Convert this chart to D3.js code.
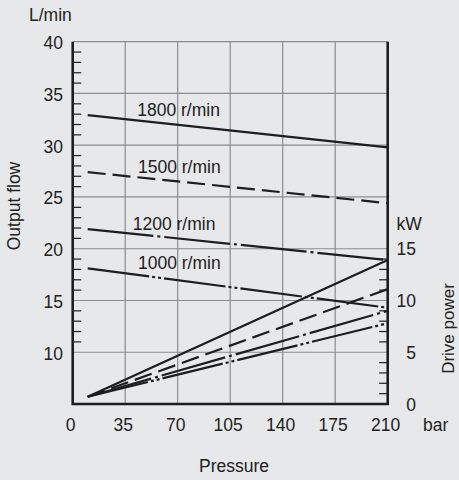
<!DOCTYPE html>
<html>
<head>
<meta charset="utf-8">
<script src="https://cdn.jsdelivr.net/npm/d3@7"></script>
<style>
  html, body { margin: 0; padding: 0; background: #e7e8ea; }
  svg { display: block; }
  text { font-family: "Liberation Sans", Arial, Helvetica, sans-serif; fill: #222; }
</style>
</head>
<body>
<script>
// ---- data ----
const speeds = ["1800 r/min", "1500 r/min", "1200 r/min", "1000 r/min"];
const pressureRange = [10, 210];                 // bar (start, end of each line)
const flowStart = [32.9, 27.4, 21.9, 18.1];      // L/min at 10 bar
const flowEnd   = [29.8, 24.4, 18.9, 14.3];      // L/min at 210 bar
const powerStart = [0.7, 0.7, 0.7, 0.7];         // kW at 10 bar
const powerEnd   = [13.9, 11.1, 9.0, 7.8];       // kW at 210 bar
const pressureTicks = [0, 35, 70, 105, 140, 175, 210];
const flowTicks = [10, 15, 20, 25, 30, 35, 40];
const powerTicks = [0, 5, 10, 15];
const dashStyles = ["none", "18,7", "66,4,3,4", "62,3,3,3,3,3"];

// ---- layout ----
const W = 459, H = 480;
const L = 72.7, R = 387.7, T = 41.7, B = 404;
const ink = "#1e1e1e";

const svg = d3.select("body").append("svg").attr("width", W).attr("height", H);

const x = d3.scaleLinear().domain([0, 210]).range([L, R]);
const yFlow = d3.scaleLinear().domain([5, 40]).range([B, T]);
const yPow = d3.scaleLinear().domain([0, 35]).range([B, T]);

// grid
const grid = svg.append("g").attr("stroke", "#8c8c8c").attr("stroke-width", 1.2);
grid.selectAll("line.v").data(pressureTicks.slice(1, -1)).join("line")
  .attr("x1", d => x(d)).attr("x2", d => x(d)).attr("y1", T).attr("y2", B);
grid.selectAll("line.h").data(flowTicks).join("line")
  .attr("x1", L).attr("x2", R).attr("y1", d => yFlow(d)).attr("y2", d => yFlow(d));

// minor ticks
const leftMinor = d3.range(11, 40).filter(v => v % 5 !== 0);
svg.append("g").attr("stroke", ink).attr("stroke-width", 1.2)
  .selectAll("line").data(leftMinor).join("line")
  .attr("x1", L).attr("x2", L + 8.5).attr("y1", d => yFlow(d)).attr("y2", d => yFlow(d));
const rightMinor = d3.range(1, 15).filter(v => v % 5 !== 0);
svg.append("g").attr("stroke", ink).attr("stroke-width", 1.2)
  .selectAll("line").data(rightMinor).join("line")
  .attr("x1", R - 8.5).attr("x2", R).attr("y1", d => yPow(d)).attr("y2", d => yPow(d));

// frame (left, bottom, right)
svg.append("path")
  .attr("d", `M${L},${T}V${B}H${R}V${T}`)
  .attr("fill", "none").attr("stroke", ink).attr("stroke-width", 2.6);

// data lines
const flowLine = d3.line().x(d => x(d[0])).y(d => yFlow(d[1]));
const powLine = d3.line().x(d => x(d[0])).y(d => yPow(d[1]));
const lines = svg.append("g").attr("fill", "none").attr("stroke", ink).attr("stroke-width", 2.2);
speeds.forEach((s, i) => {
  lines.append("path")
    .attr("d", flowLine([[pressureRange[0], flowStart[i]], [pressureRange[1], flowEnd[i]]]))
    .attr("stroke-dasharray", dashStyles[i]);
  lines.append("path")
    .attr("d", powLine([[pressureRange[0], powerStart[i]], [pressureRange[1], powerEnd[i]]]))
    .attr("stroke-dasharray", dashStyles[i]);
});

// line labels
const labelX = [43, 43.5, 40, 43.5];
speeds.forEach((s, i) => {
  svg.append("text").attr("x", x(labelX[i])).attr("y", yFlow(flowStart[i]) + 0.5)
    .attr("font-size", 17.5).text(s);
});

// axis tick labels
const fs = 17.5;
svg.append("g").selectAll("text").data(flowTicks).join("text")
  .attr("x", 63).attr("y", d => yFlow(d) + 7.5)
  .attr("text-anchor", "end").attr("font-size", fs).text(d => d);
svg.append("g").selectAll("text").data(powerTicks).join("text")
  .attr("x", 416).attr("y", d => yPow(d) + 6.5)
  .attr("text-anchor", "end").attr("font-size", fs).text(d => d);
svg.append("g").selectAll("text").data(pressureTicks).join("text")
  .attr("x", d => x(d) - 2).attr("y", 431)
  .attr("text-anchor", "middle").attr("font-size", fs).text(d => d);

// units and titles
svg.append("text").attr("x", 29).attr("y", 21).attr("font-size", fs).text("L/min");
svg.append("text").attr("x", 396.5).attr("y", 230).attr("font-size", fs).text("kW");
svg.append("text").attr("x", 423).attr("y", 431).attr("font-size", fs).text("bar");
svg.append("text").attr("x", 234).attr("y", 472).attr("text-anchor", "middle")
  .attr("font-size", fs).text("Pressure");
svg.append("text").attr("transform", "translate(19.5,206) rotate(-90)")
  .attr("text-anchor", "middle").attr("font-size", fs).text("Output flow");
svg.append("text").attr("transform", "translate(454,328.5) rotate(-90)")
  .attr("text-anchor", "middle").attr("font-size", 17).text("Drive power");
</script>
</body>
</html>
